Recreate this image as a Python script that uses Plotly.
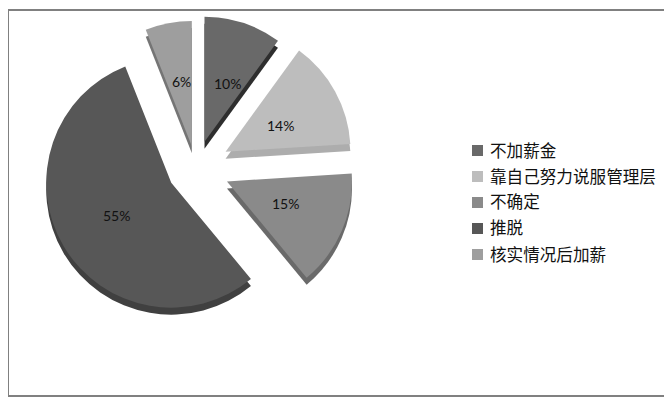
import plotly.graph_objects as go

labels = ['不加薪金', '靠自己努力说服管理层', '不确定', '推脱', '核实情况后加薪']
values = [10, 14, 15, 55, 6]
pulls = [0.22, 0.27, 0.27, 0.23, 0.18]
colors = ['#696969', '#bdbdbd', '#8a8a8a', '#575757', '#9e9e9e']
side_colors = ['#2e2e2e', '#adadad', '#6a6a6a', '#404040', '#757575']
label_pos = [(227, 83), (280, 125), (285, 203), (117, 215), (181, 81)]

# the page has an 8px body margin, so the figure starts at 8,8 in the window
OFF = 8
W = 672 - OFF
H = 403 - OFF


def px(x):
    return (x - OFF) / W


def py(y):
    return 1 - (y - OFF) / H


def pie_domain(cy):
    # pie is centred on x=196, radius 125 plus the biggest pull
    half = 125 * (1 + max(pulls))
    return dict(x=[px(196 - half), px(196 + half)], y=[py(cy + half), py(cy - half)])


# darker copy underneath, a bit lower, gives the 3d edge
side = go.Pie(values=values, labels=labels, pull=pulls, sort=False, direction='clockwise',
              rotation=0, marker=dict(colors=side_colors, line=dict(width=0)),
              textinfo='none', hoverinfo='skip', showlegend=False, domain=pie_domain(175))
top = go.Pie(values=values, labels=labels, pull=pulls, sort=False, direction='clockwise',
             rotation=0, marker=dict(colors=colors, line=dict(width=0)),
             textinfo='none', showlegend=False, domain=pie_domain(168))

shapes = [dict(type='rect', xref='paper', yref='paper', x0=px(8), x1=px(690), y0=py(396), y1=py(10),
               line=dict(color='#808080', width=2), layer='below')]
annotations = []
# percent labels sit nearer the middle than plotly would put them
for v, (x, y) in zip(values, label_pos):
    annotations.append(dict(text=f'{v}%', xref='paper', yref='paper', x=px(x), y=py(y), showarrow=False,
                            xanchor='center', yanchor='middle',
                            font=dict(family='Lato', size=14, color='#111111')))
# legend by hand, the rows are wider apart than a plotly legend allows
for i, name in enumerate(labels):
    y = 150.5 + i * 26
    shapes.append(dict(type='rect', xref='paper', yref='paper', x0=px(472), x1=px(483),
                       y0=py(y + 5.5), y1=py(y - 5.5), fillcolor=colors[i], line=dict(width=0)))
    annotations.append(dict(text=name, xref='paper', yref='paper', x=px(488), y=py(y - 1), xanchor='left',
                            yanchor='middle', showarrow=False,
                            font=dict(family='Noto Sans CJK SC', size=16.6, color='#111111')))

fig = go.Figure(data=[side, top])
fig.update_layout(width=W, height=H, margin=dict(l=0, r=0, t=0, b=0), paper_bgcolor='white',
                  shapes=shapes, annotations=annotations)
fig.write_html("out.html")
